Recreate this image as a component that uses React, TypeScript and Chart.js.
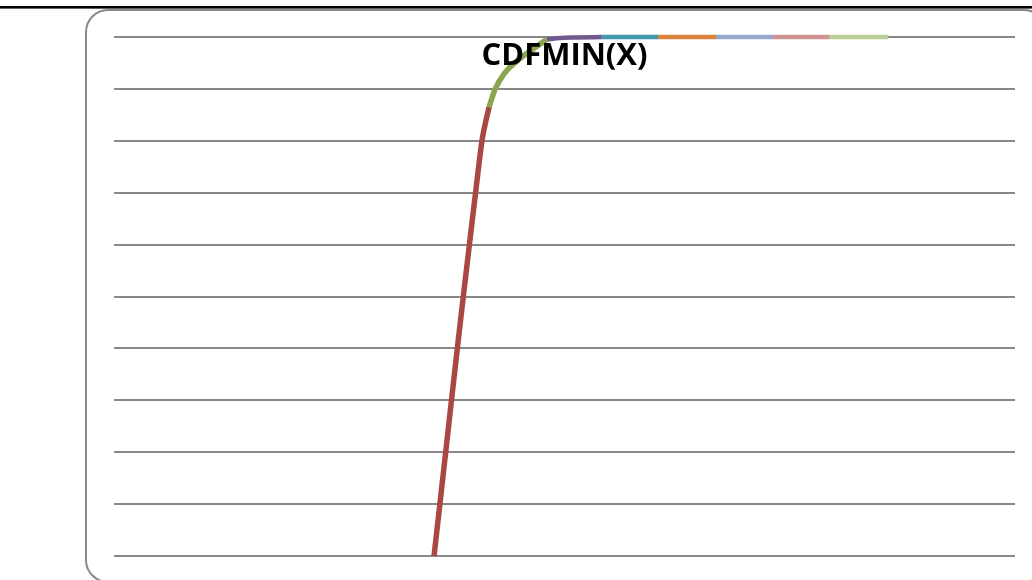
import React, { useEffect, useRef } from "react";
import { Chart, registerables } from "chart.js";

Chart.register(...registerables);

// Piecewise CDF of the minimum, each piece drawn as its own series
const redX = [5.683, 5.787, 5.89, 5.993, 6.097, 6.203, 6.311, 6.421, 6.535, 6.66];
const redY = [0, 0.1, 0.2, 0.3, 0.4, 0.5, 0.6, 0.7, 0.8, 0.865];

const greenX = [6.66, 6.77, 6.94, 7.15, 7.39, 7.68];
const greenY = [0.865, 0.9, 0.931, 0.953, 0.973, 0.995];

const purpleX = [7.68, 7.92, 8.19, 8.65];
const purpleY = [0.995, 0.998, 0.999, 1.0];

const tealX = [8.65, 9.66];
const tealY = [1.0, 1.0];

const orangeX = [9.66, 10.69];
const orangeY = [1.0, 1.0];

const lightBlueX = [10.69, 11.69];
const lightBlueY = [1.0, 1.0];

const pinkX = [11.69, 12.7];
const pinkY = [1.0, 1.0];

const lightGreenX = [12.7, 13.75];
const lightGreenY = [1.0, 1.0];

const yTicks = [0, 0.1, 0.2, 0.3, 0.4, 0.5, 0.6, 0.7, 0.8, 0.9, 1.0];

const titleText = "CDFMIN(X)";

const pieces = [
  { name: "p1", xs: redX, ys: redY, color: "#AA4643", width: 5.5 },
  { name: "p2", xs: greenX, ys: greenY, color: "#89A54E", width: 5.5 },
  { name: "p3", xs: purpleX, ys: purpleY, color: "#71588F", width: 4.5 },
  { name: "p4", xs: tealX, ys: tealY, color: "#4198AF", width: 4.5 },
  { name: "p5", xs: orangeX, ys: orangeY, color: "#DB843D", width: 4.5 },
  { name: "p6", xs: lightBlueX, ys: lightBlueY, color: "#93A9CF", width: 4.5 },
  { name: "p7", xs: pinkX, ys: pinkY, color: "#D19392", width: 4.5 },
  { name: "p8", xs: lightGreenX, ys: lightGreenY, color: "#B9CD96", width: 4.5 },
];

// Frame: black rule across the top plus the rounded chart border
const framePlugin = {
  id: "frame",
  beforeDraw(chart: any) {
    const ctx = chart.ctx;
    ctx.save();
    ctx.strokeStyle = "#8a8a8a";
    ctx.lineWidth = 2;
    ctx.beginPath();
    ctx.roundRect(86, 10, 960, 572, 22);
    ctx.stroke();
    ctx.fillStyle = "#000";
    ctx.fillRect(0, 6, chart.width, 2.6);
    ctx.restore();
  },
};

// Title painted on top of the lines, centred over the plot
const titlePlugin = {
  id: "overTitle",
  afterDraw(chart: any) {
    const { ctx, chartArea } = chart;
    ctx.save();
    ctx.font = "bold 31px 'Open Sans', sans-serif";
    ctx.fillStyle = "#000";
    ctx.textAlign = "center";
    ctx.textBaseline = "alphabetic";
    ctx.fillText(titleText, (chartArea.left + chartArea.right) / 2, 65);
    ctx.restore();
  },
};

export default function App() {
  const canvasRef = useRef<HTMLCanvasElement | null>(null);

  useEffect(() => {
    document.body.style.margin = "0";
    const canvas = canvasRef.current;
    if (!canvas) return;
    const chart = new Chart(canvas, {
      type: "line",
      data: {
        datasets: pieces.map((p) => ({
          label: p.name,
          data: p.xs.map((x, i) => ({ x, y: p.ys[i] })),
          borderColor: p.color,
          backgroundColor: p.color,
          borderWidth: p.width,
          pointRadius: 0,
          cubicInterpolationMode: "monotone" as const,
          borderCapStyle: "butt" as const,
          fill: false,
          clip: false as const,
        })),
      },
      options: {
        animation: false,
        responsive: false,
        devicePixelRatio: 1,
        layout: { padding: { left: 114, right: 17, top: 37, bottom: 24 } },
        plugins: {
          legend: { display: false },
          title: { display: false },
          tooltip: { enabled: false },
        },
        scales: {
          x: { type: "linear", min: 0, max: 16, display: false },
          y: {
            type: "linear",
            min: 0,
            max: 1,
            afterBuildTicks: (scale: any) => {
              scale.ticks = yTicks.map((v) => ({ value: v }));
            },
            ticks: { display: false },
            grid: { color: "#888888", lineWidth: 2, drawTicks: false },
            border: { display: false },
          },
        },
      },
      plugins: [framePlugin, titlePlugin],
    });
    return () => chart.destroy();
  }, []);

  return (
    <div style={{ position: "absolute", left: 0, top: 0, width: 1032, height: 580, background: "#fff" }}>
      <canvas ref={canvasRef} width={1032} height={580} />
    </div>
  );
}
